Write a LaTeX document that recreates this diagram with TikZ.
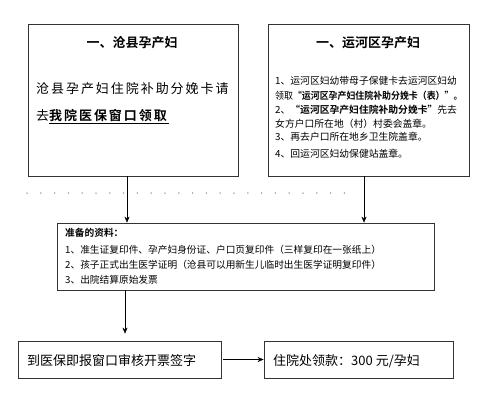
\documentclass[tikz,border=0pt]{standalone}
\usepackage{fontspec}
\setmainfont{Noto Sans CJK SC}[BoldFont={Noto Sans CJK SC Bold}]
\newfontfamily\widecjk{Noto Sans CJK SC}[BoldFont={Noto Sans CJK SC Bold},LetterSpace=15]
\usepackage{tikz}
\usetikzlibrary{arrows.meta}

\begin{document}
\begin{tikzpicture}[x=1pt,y=-1pt,
  box/.style={draw=black!80,line width=0.8pt,inner sep=0pt},
  txt/.style={anchor=west,inner sep=0pt},
  head/.style={inner sep=0pt,font=\fontsize{13}{15}\selectfont\bfseries},
  big/.style={font=\fontsize{13}{15}\selectfont},
  small/.style={font=\fontsize{9.8}{11}\selectfont},
  list/.style={font=\fontsize{9.7}{11}\selectfont},
  >={Stealth[length=6pt,width=5pt]}]
\useasboundingbox (0,0) rectangle (495,400);
%  [ cangxian ]     [ yunhe ]
%        \            /
%        [  papers  ]
%        |
%  [ window ] --> [ pay ]
\node[box,minimum width=210pt,minimum height=152pt] (boxA) at (133,100) {};
\node[box,minimum width=201pt,minimum height=152pt] (boxB) at (368.5,100) {};
\node[box,minimum width=377pt,minimum height=67pt] (boxC) at (245.5,256.5) {};
\node[box,minimum width=203pt,minimum height=37pt] (boxD) at (119.5,359.5) {};
\node[box,minimum width=189pt,minimum height=37pt] (boxE) at (358.5,359.5) {};
%
\node[head] (titleA) at (132,43) {一、沧县孕产妇};
\node[txt,big] (lineA1) at (36,89) {\widecjk 沧县孕产妇住院补助分娩卡请};
\node[txt,big] (lineA2) at (36,117) {\widecjk 去\underline{\textbf{我院医保窗口领取}}};
%
\node[head] (titleB) at (368,43) {一、运河区孕产妇};
\node[txt,small] (lineB1) at (275,81) {1、运河区妇幼带母子保健卡去运河区妇幼};
\node[txt,small] (lineB2) at (275,96) {\scalebox{0.91}[1]{领取\textbf{“运河区孕产妇住院补助分娩卡（表）”。}}};
\node[txt,small] (lineB3) at (275,110) {2、\textbf{“运河区孕产妇住院补助分娩卡”}先去};
\node[txt,small] (lineB4) at (275,124) {女方户口所在地（村）村委会盖章。};
\node[txt,small] (lineB5) at (275,137) {3、再去户口所在地乡卫生院盖章。};
\node[txt,small] (lineB6) at (275,154) {4、回运河区妇幼保健站盖章。};
%
\node[txt,list] (lineC0) at (65,233) {\textbf{准备的资料：}};
\node[txt,list] (lineC1) at (65,250) {1、准生证复印件、孕产妇身份证、户口页复印件（三样复印在一张纸上）};
\node[txt,list] (lineC2) at (65,265) {2、孩子正式出生医学证明（沧县可以用新生儿临时出生医学证明复印件）};
\node[txt,list] (lineC3) at (65,280) {3、出院结算原始发票};
%
\node[txt,big] (lineD) at (27,361) {到医保即报窗口审核开票签字};
\node[txt,big] (lineE) at (273,361) {住院处领款：300 元/孕妇};
%
\draw[gray,line width=1.5pt,line cap=round,dash pattern=on 0pt off 13.8pt] (27,193) -- (345,193);
%
\draw[->] ([xshift=-6pt]boxA.south) -- ([xshift=-6pt]boxA.south |- boxC.north);
\draw[->] ([xshift=-4.5pt]boxB.south) -- ([xshift=-4.5pt]boxB.south |- boxC.north);
\draw[->,shorten >=7pt] ([xshift=5.5pt]boxD.north |- boxC.south) -- ([xshift=5.5pt]boxD.north);
\draw[->,shorten <=2pt] (boxD) -- (boxE);
\end{tikzpicture}
\end{document}
